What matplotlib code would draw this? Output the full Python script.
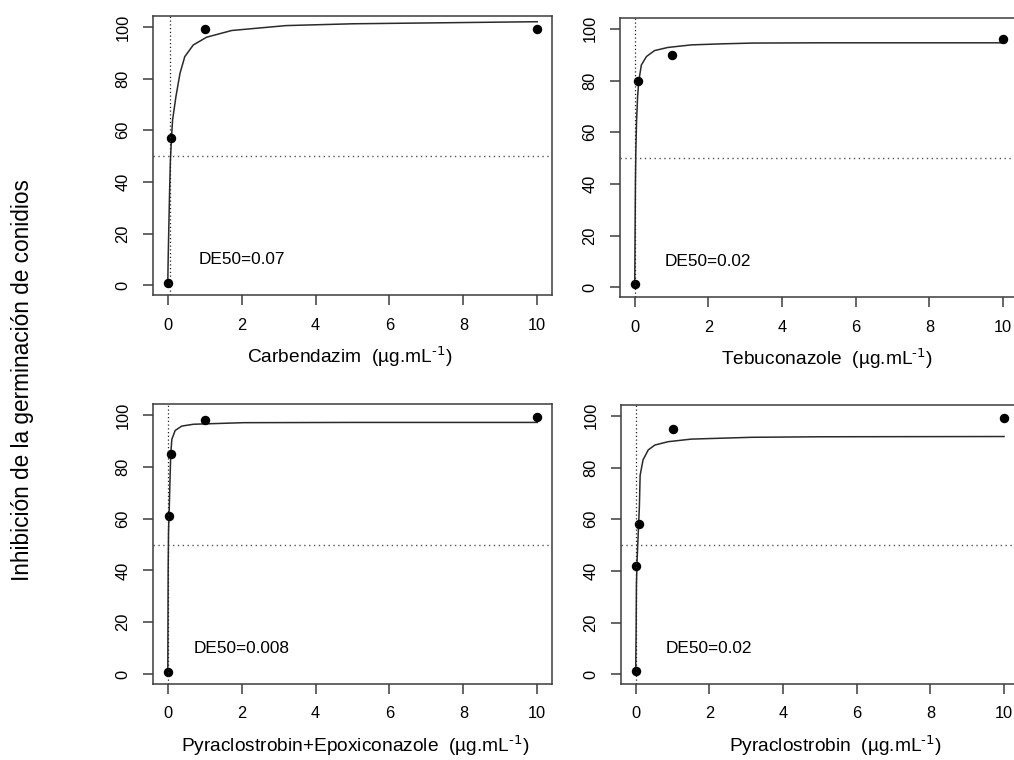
import numpy as np
import matplotlib.pyplot as plt

plt.rcParams['font.family'] = ['Liberation Sans', 'DejaVu Sans']
plt.rcParams['mathtext.default'] = 'regular'

# fungicide names and DE50 values
names = ['Carbendazim', 'Tebuconazole', 'Pyraclostrobin+Epoxiconazole', 'Pyraclostrobin']
de50 = [0.07, 0.02, 0.008, 0.02]
de50_txt = ['DE50=0.07', 'DE50=0.02', 'DE50=0.008', 'DE50=0.02']

# observed points (dose, % inhibition)
dose_carb = [0, 0.1, 1, 10]
inh_carb = [1, 57, 99, 99]
dose_teb = [0, 0.1, 1, 10]
inh_teb = [1.4, 80, 90, 96]
dose_pe = [0, 0.04, 0.1, 1, 10]
inh_pe = [1, 61, 85, 98, 99]
dose_pyr = [0, 0.02, 0.1, 1, 10]
inh_pyr = [1.2, 42, 58, 95, 99]

# fitted curves
fx_carb = [0, 0.01, 0.03, 0.05, 0.07, 0.1, 0.13, 0.22, 0.33, 0.46, 0.69, 1.05, 1.73, 3.2, 5.0, 10]
fy_carb = [1, 10, 24, 37, 48, 57, 64, 73, 82, 88.5, 93, 96, 98.6, 100.5, 101.2, 102]
fx_teb = [0, 0.005, 0.01, 0.02, 0.03, 0.05, 0.08, 0.11, 0.18, 0.32, 0.54, 0.9, 1.54, 2.36, 3.2, 5, 10]
fy_teb = [1, 8, 20, 40, 52, 64, 74, 79.6, 86, 89.3, 91.6, 92.8, 93.8, 94.2, 94.5, 94.6, 94.6]
fx_pe = [0, 0.005, 0.01, 0.02, 0.03, 0.04, 0.06, 0.08, 0.11, 0.2, 0.38, 0.7, 2.05, 5, 10]
fy_pe = [1, 20, 40, 55, 60, 64, 75, 85, 90.6, 94, 95.7, 96.4, 97.0, 97.1, 97.1]
fx_pyr = [0, 0.01, 0.02, 0.04, 0.07, 0.1, 0.12, 0.2, 0.34, 0.52, 0.88, 1.51, 3.15, 5, 10]
fy_pyr = [1, 15, 35, 45, 55, 65, 77, 83, 86.8, 88.7, 90, 91, 91.7, 91.9, 92]

doses = [dose_carb, dose_teb, dose_pe, dose_pyr]
inhs = [inh_carb, inh_teb, inh_pe, inh_pyr]
fxs = [fx_carb, fx_teb, fx_pe, fx_pyr]
fys = [fy_carb, fy_teb, fy_pe, fy_pyr]

# axes boxes in figure fractions: left, bottom, width, height
boxes = [[0.1509, 0.6118, 0.3935, 0.3671],
         [0.6114, 0.6092, 0.3923, 0.3671],
         [0.1509, 0.1000, 0.3935, 0.3684],
         [0.6124, 0.1000, 0.3923, 0.3671]]
label_x = [0.494, 0.52, 0.506, 0.539]

fig = plt.figure(figsize=(10.14, 7.6), dpi=100)
edge = '#3c3c3c'

for i in range(4):
    ax = fig.add_axes(boxes[i])
    ax.plot(fxs[i], fys[i], color='#2a2a2a', lw=1.1)
    ax.plot(doses[i], inhs[i], 'o', color='black', ms=5.8)
    ax.axhline(50, color='#555555', ls=(0, (1, 2.5)), lw=1)
    ax.axvline(de50[i], color='#222222', ls=(0, (1, 2)), lw=0.9)
    ax.text(2, 10, de50_txt[i], ha='center', va='center', fontsize=12.4)
    ax.set_xlim(-0.4, 10.4)
    ax.set_ylim(-3.8, 104.2)
    ax.set_xticks([0, 2, 4, 6, 8, 10])
    ax.set_yticks([0, 20, 40, 60, 80, 100])
    ax.tick_params(direction='out', length=7.2, width=1.1, color=edge,
                   labelsize=11.8, pad=9)
    for lab in ax.get_yticklabels():
        lab.set_rotation(90)
        lab.set_va('center')
    for sp in ax.spines.values():
        sp.set_color(edge)
        sp.set_linewidth(1.1)
    ax.set_xlabel(names[i] + r'  (µg.mL$^{\text{-1}}$)', fontsize=13.8)
    ax.xaxis.set_label_coords(label_x[i], -0.175)

fig.text(0.0217, 0.5, 'Inhibición de la germinación de conidios',
         rotation=90, ha='center', va='center', fontsize=16.3)

fig.savefig('out.png', dpi=100)
